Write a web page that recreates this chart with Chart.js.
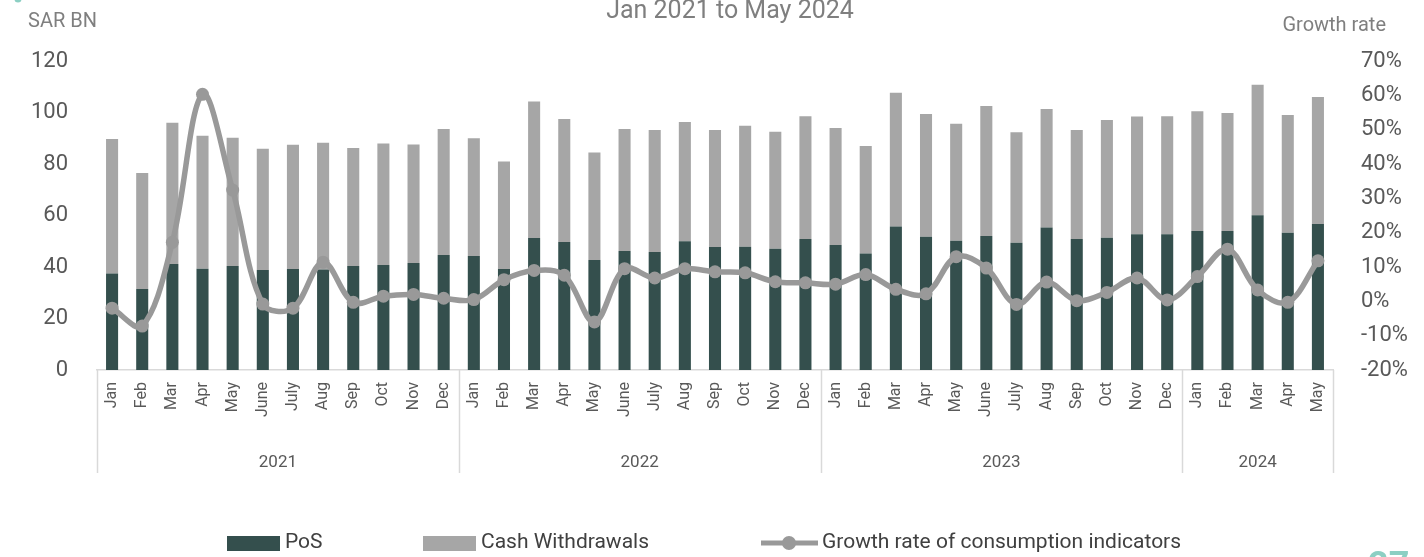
<!DOCTYPE html>
<html>
<head>
<meta charset="utf-8">
<script src="https://cdn.jsdelivr.net/npm/chart.js@4.4.1/dist/chart.umd.min.js"></script>
<style>
  html, body { margin: 0; padding: 0; background: #fff; }
  canvas { display: block; }
</style>
</head>
<body>
<canvas id="chart" width="1424" height="557"></canvas>
<script>
// months shown under each bar, grouped by year
var months2021 = ["Jan", "Feb", "Mar", "Apr", "May", "June", "July", "Aug", "Sep", "Oct", "Nov", "Dec"];
var months2022 = ["Jan", "Feb", "Mar", "Apr", "May", "June", "July", "Aug", "Sep", "Oct", "Nov", "Dec"];
var months2023 = ["Jan", "Feb", "Mar", "Apr", "May", "June", "July", "Aug", "Sep", "Oct", "Nov", "Dec"];
var months2024 = ["Jan", "Feb", "Mar", "Apr", "May"];
var years = ["2021", "2022", "2023", "2024"];

// SAR BN
var pos = [37.5, 31.5, 41.2, 39.3, 40.4, 38.8, 39.2, 39.0, 40.4, 40.8, 41.6, 44.7,
           44.3, 39.2, 51.3, 49.7, 42.7, 46.2, 45.8, 50.0, 47.8, 47.9, 47.1, 50.9,
           48.5, 45.2, 55.7, 51.7, 50.2, 52.0, 49.4, 55.3, 50.9, 51.4, 52.7, 52.7,
           54.0, 54.0, 60.1, 53.3, 56.7];
var cash = [52.2, 45.0, 54.8, 51.7, 49.8, 47.1, 48.3, 49.3, 45.8, 47.2, 46.0, 48.9,
            45.7, 41.8, 53.0, 47.8, 41.8, 47.4, 47.4, 46.3, 45.4, 47.0, 45.4, 47.6,
            45.5, 41.8, 52.0, 47.7, 45.4, 50.5, 42.9, 46.1, 42.3, 45.7, 45.7, 45.8,
            46.5, 45.8, 50.7, 45.7, 49.3];
// growth rate, %
var growth = [-2.0, -7.2, 17.2, 60.3, 32.4, -0.8, -2.0, 11.4, -0.3, 1.5, 2.0, 0.9,
              0.5, 6.3, 9.0, 7.6, -6.0, 9.5, 6.8, 9.5, 8.6, 8.3, 5.7, 5.4,
              5.0, 7.8, 3.5, 2.2, 13.0, 9.7, -0.9, 5.6, 0.2, 2.6, 6.8, 0.4,
              7.2, 15.2, 3.3, -0.3, 11.8];

var monthGroups = [months2021, months2022, months2023, months2024];
var labels = [].concat(months2021, months2022, months2023, months2024);

var FONT = "Roboto, 'DejaVu Sans', sans-serif";
var posColor = "#344f4d";
var cashColor = "#a6a6a6";
var lineColor = "#999999";
var axisGrey = "#d9d9d9";

var decor = {
  id: "decor",
  afterDraw: function (chart) {
    var c = chart.ctx;
    var x = chart.scales.x;
    var area = chart.chartArea;
    c.save();

    // title (top line is cut off in the original)
    c.fillStyle = "#7f7f7f";
    c.font = "25px " + FONT;
    c.textAlign = "center";
    c.textBaseline = "alphabetic";
    c.fillText("Jan 2021 to May 2024", 730, 18);

    c.font = "20px " + FONT;
    c.textAlign = "left";
    c.fillText("SAR BN", 28, 27);
    c.textAlign = "right";
    c.fillText("Growth rate", 1386, 31);

    // year groups below the month labels
    var step = x.getPixelForValue(1) - x.getPixelForValue(0);
    var x0 = x.getPixelForValue(0) - step / 2;
    var start = 0;
    var edges = [0];
    monthGroups.forEach(function (g) { start += g.length; edges.push(start); });
    c.strokeStyle = axisGrey;
    c.lineWidth = 1.5;
    edges.forEach(function (e) {
      var px = Math.round(x0 + e * step) + 0.5;
      c.beginPath();
      c.moveTo(px, area.bottom);
      c.lineTo(px, 473);
      c.stroke();
    });
    c.fillStyle = "#595959";
    c.font = "17px " + FONT;
    c.textAlign = "center";
    c.textBaseline = "middle";
    for (var i = 0; i < years.length; i++) {
      var a = x0 + edges[i] * step;
      var b = x0 + edges[i + 1] * step;
      c.fillText(years[i], (a + b) / 2, 463);
    }

    // legend
    var ly = 543;
    c.textAlign = "left";
    c.font = "21px " + FONT;
    c.fillStyle = posColor;
    c.fillRect(227, ly - 7, 53, 15);
    c.fillStyle = cashColor;
    c.fillRect(423, ly - 7, 53, 15);
    c.strokeStyle = lineColor;
    c.lineWidth = 5;
    c.beginPath();
    c.moveTo(761, ly);
    c.lineTo(818, ly);
    c.stroke();
    c.fillStyle = lineColor;
    c.beginPath();
    c.arc(789, ly, 7, 0, Math.PI * 2);
    c.fill();
    c.fillStyle = "#404040";
    var ds = chart.data.datasets;
    c.fillText(ds[0].label, 285, ly);
    c.fillText(ds[1].label, 481, ly);
    c.fillText(ds[2].label, 822, ly);

    // page number peeking in at the bottom and logo dot at the top
    c.fillStyle = "#8ccfc3";
    c.font = "bold 36px " + FONT;
    c.textBaseline = "top";
    c.fillText("27", 1368, 550);
    c.beginPath();
    c.arc(18, -1, 3.5, 0, Math.PI * 2);
    c.fill();
    c.restore();
  }
};

new Chart(document.getElementById("chart"), {
  type: "bar",
  data: {
    labels: labels,
    datasets: [
      {
        label: "PoS",
        data: pos,
        backgroundColor: posColor,
        yAxisID: "y",
        stack: "s",
        order: 1,
        barPercentage: 0.4,
        categoryPercentage: 1
      },
      {
        label: "Cash Withdrawals",
        data: cash,
        backgroundColor: cashColor,
        yAxisID: "y",
        stack: "s",
        order: 1,
        barPercentage: 0.4,
        categoryPercentage: 1
      },
      {
        type: "line",
        label: "Growth rate of consumption indicators",
        data: growth,
        yAxisID: "y2",
        borderColor: lineColor,
        backgroundColor: lineColor,
        borderWidth: 5.5,
        pointRadius: 6.5,
        pointBackgroundColor: lineColor,
        pointBorderWidth: 0,
        tension: 0.35,
        order: 0
      }
    ]
  },
  options: {
    responsive: false,
    animation: false,
    devicePixelRatio: 1,
    layout: { padding: { top: 61, left: 0, right: 0, bottom: 0 } },
    plugins: {
      legend: { display: false },
      tooltip: { enabled: false },
      title: { display: false }
    },
    scales: {
      x: {
        stacked: true,
        grid: { display: false, drawTicks: false },
        border: { display: true, color: axisGrey, width: 1.5 },
        ticks: {
          autoSkip: false,
          minRotation: 90,
          maxRotation: 90,
          padding: 12,
          color: "#595959",
          font: { family: FONT, size: 16 }
        },
        afterFit: function (s) { s.height = 187; }
      },
      y: {
        stacked: true,
        position: "left",
        min: 0,
        max: 120,
        grid: { display: false, drawTicks: false },
        border: { display: false },
        ticks: {
          stepSize: 20,
          padding: 29,
          color: "#595959",
          font: { family: FONT, size: 22 }
        },
        afterFit: function (s) { s.width = 97; }
      },
      y2: {
        position: "right",
        min: -20,
        max: 70,
        grid: { display: false, drawTicks: false },
        border: { display: false },
        ticks: {
          stepSize: 10,
          padding: 28,
          color: "#595959",
          font: { family: FONT, size: 22 },
          callback: function (v) { return v + "%"; }
        },
        afterFit: function (s) { s.width = 91; }
      }
    }
  },
  plugins: [decor]
});
</script>
</body>
</html>
